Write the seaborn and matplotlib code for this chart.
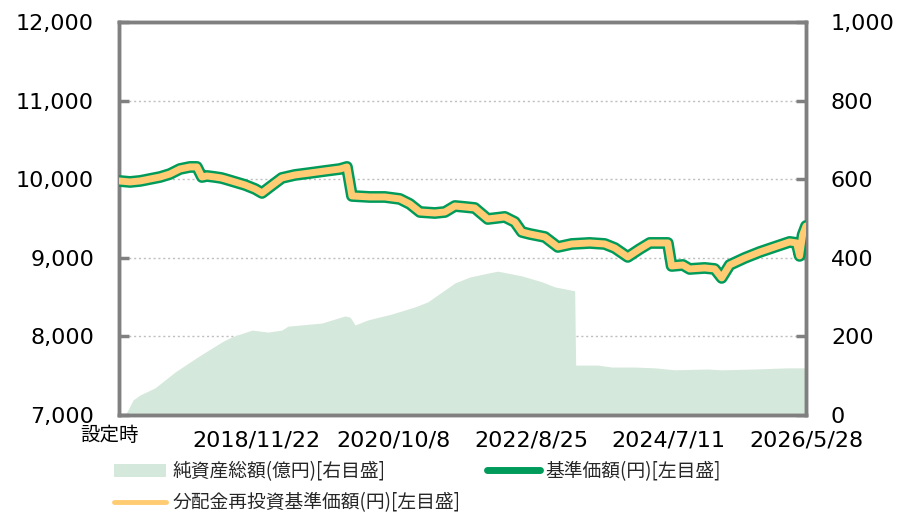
import matplotlib
matplotlib.use('Agg')
import matplotlib.pyplot as plt
from matplotlib.lines import Line2D
from matplotlib.patches import Patch
from matplotlib.transforms import ScaledTranslation
import seaborn as sns
import pandas as pd

# ---------------- data ----------------
nav_dates = ['2017-01-05', '2017-03-01', '2017-04-20', '2017-05-15', '2017-06-09', '2017-07-29',
             '2017-09-16', '2017-11-05', '2017-12-25', '2018-01-29', '2018-02-23', '2018-03-20',
             '2018-04-29', '2018-05-30', '2018-06-18', '2018-08-07', '2018-09-26', '2018-11-15',
             '2018-12-20', '2019-01-28', '2019-03-29', '2019-06-02', '2019-08-16', '2019-10-30',
             '2020-01-13', '2020-02-17', '2020-03-13', '2020-06-10', '2020-08-24', '2020-11-07',
             '2020-12-27', '2021-02-15', '2021-05-01', '2021-06-20', '2021-08-09', '2021-09-28',
             '2021-11-16', '2022-01-20', '2022-04-15', '2022-06-04', '2022-07-09', '2022-08-18',
             '2022-11-01', '2023-01-05', '2023-03-15', '2023-06-13', '2023-08-27', '2023-10-16',
             '2023-12-20', '2024-02-18', '2024-04-08', '2024-07-07', '2024-07-26', '2024-09-20',
             '2024-10-24', '2025-01-07', '2025-02-26', '2025-04-02', '2025-05-12', '2025-07-26',
             '2025-10-09', '2025-12-22', '2026-03-07', '2026-04-11', '2026-04-26', '2026-05-11',
             '2026-05-28']
nav_values = [9978, 9965, 9978, 9990, 10003, 10028,
              10066, 10130, 10156, 10156, 10028, 10041,
              10028, 10016, 10003, 9965, 9927, 9876,
              9825, 9901, 10016, 10054, 10079, 10105,
              10130, 10156, 9787, 9774, 9774, 9749,
              9685, 9583, 9570, 9583, 9659, 9647,
              9634, 9494, 9520, 9456, 9329, 9303,
              9265, 9138, 9176, 9189, 9176, 9125,
              9011, 9112, 9189, 9189, 8896, 8909,
              8858, 8871, 8858, 8744, 8909, 8998,
              9074, 9138, 9202, 9189, 9024, 9291,
              9405]
reinv_values = list(nav_values)

aum_dates = ['2017-02-04', '2017-02-19', '2017-03-16', '2017-04-20', '2017-07-04', '2017-10-11',
             '2018-02-03', '2018-06-03', '2018-07-23', '2018-10-31', '2019-01-19', '2019-03-29',
             '2019-04-28', '2019-10-15', '2020-02-07', '2020-03-03', '2020-03-13', '2020-03-28',
             '2020-06-01', '2020-09-28', '2021-01-21', '2021-03-27', '2021-08-09', '2021-10-22',
             '2022-01-20', '2022-03-11', '2022-04-30', '2022-07-09', '2022-10-17', '2022-12-21',
             '2023-03-30', '2023-04-04', '2023-07-23', '2023-10-01', '2024-01-24', '2024-05-03',
             '2024-08-10', '2025-01-22', '2025-04-02', '2025-09-14', '2026-02-25', '2026-05-28']
aum_values = [0, 13, 38, 51, 69, 109,
              148, 186, 199, 216, 211, 216,
              226, 234, 252, 249, 242, 229,
              242, 257, 275, 288, 336, 351,
              361, 366, 361, 354, 339, 326,
              316, 127, 127, 122, 122, 120,
              115, 117, 115, 117, 120, 120]

tick_dates = ['2017-01-05', '2018-11-22', '2020-10-08', '2022-08-25', '2024-07-11', '2026-05-28']
tick_labels = ['設定時', '2018/11/22', '2020/10/8', '2022/8/25', '2024/7/11', '2026/5/28']
left_ticks = [7000, 8000, 9000, 10000, 11000, 12000]
right_ticks = [0, 200, 400, 600, 800, 1000]
legend_labels = ['純資産総額(億円)[右目盛]', '分配金再投資基準価額(円)[左目盛]', '基準価額(円)[左目盛]']

# ---------------- style ----------------
AREA = '#D5E8DC'
GREEN = '#009B5A'
YELLOW = '#FFCC73'
GRAY = '#808080'

sns.set_theme(style='white')
plt.rcParams['font.family'] = ['DejaVu Sans', 'Noto Sans CJK JP']
CJK = ['Noto Sans CJK JP', 'DejaVu Sans']

nav = pd.DataFrame({'date': pd.to_datetime(nav_dates), 'nav': nav_values, 'reinv': reinv_values})
aum = pd.DataFrame({'date': pd.to_datetime(aum_dates), 'aum': aum_values})
tdates = pd.to_datetime(tick_dates)

fig = plt.figure(figsize=(9.01, 5.15), dpi=100)
ax = fig.add_axes([119 / 901, 1 - 415 / 515, (806 - 119) / 901, (415 - 22) / 515])
ax2 = ax.twinx()

# area on right axis (behind)
ax2.fill_between(aum['date'], 0, aum['aum'], color=AREA, lw=0, zorder=2)
ax2.set_ylim(0, 1000)
ax2.set_yticks(right_ticks)
ax2.set_yticklabels([f'{v:,}' for v in right_ticks])
ax2.set_axisbelow(True)
ax2.grid(axis='y', color='#BFBFBF', linestyle=(0, (1.5, 2)), lw=1, zorder=0)
ax2.grid(axis='x', visible=False)

# lines on left axis (front)
ax.set_zorder(ax2.get_zorder() + 1)
ax.patch.set_visible(False)
sns.lineplot(data=nav, x='date', y='nav', ax=ax, color=GREEN, lw=8.5, zorder=3)
sns.lineplot(data=nav, x='date', y='reinv', ax=ax, color=YELLOW, lw=5, zorder=4)
ax.set_ylim(7000, 12000)
ax.set_xlim(tdates[0], tdates[-1])
ax.set_yticks(left_ticks)
ax.set_yticklabels([f'{v:,}' for v in left_ticks])
ax.set_xticks(tdates)
ax.set_xticklabels(tick_labels)
ax.set_xlabel('')
ax.set_ylabel('')
ax2.set_ylabel('')
ax.grid(False)

for a in (ax, ax2):
    for s in a.spines.values():
        s.set_color(GRAY)
        s.set_linewidth(2.5)
ax.tick_params(axis='both', direction='in', length=7, width=2.5, color=GRAY,
               labelsize=16, labelcolor='#000000')
ax.tick_params(axis='y', pad=18)
ax.tick_params(axis='x', pad=11)
ax2.tick_params(axis='y', direction='in', length=7, width=2.5, color=GRAY,
                labelsize=16, labelcolor='#000000', pad=18)

first = ax.get_xticklabels()[0]
first.set_fontfamily(CJK)
first.set_fontsize(14)
first.set_transform(first.get_transform() + ScaledTranslation(-9 / 100, 5 / 100, fig.dpi_scale_trans))

handles = [Patch(facecolor=AREA, edgecolor='none'),
           Line2D([], [], color=YELLOW, lw=3.5, solid_capstyle='round'),
           Line2D([], [], color=GREEN, lw=5, solid_capstyle='round')]
fig.legend(handles, legend_labels, ncol=2, loc='upper left',
           bbox_to_anchor=(114 / 901, 1 - 461 / 515), frameon=False,
           prop={'family': CJK, 'size': 13.5}, borderpad=0, borderaxespad=0,
           handlelength=2.8, handletextpad=0.3, columnspacing=1.45, labelspacing=0.55)

fig.savefig('out.png', dpi=100)
